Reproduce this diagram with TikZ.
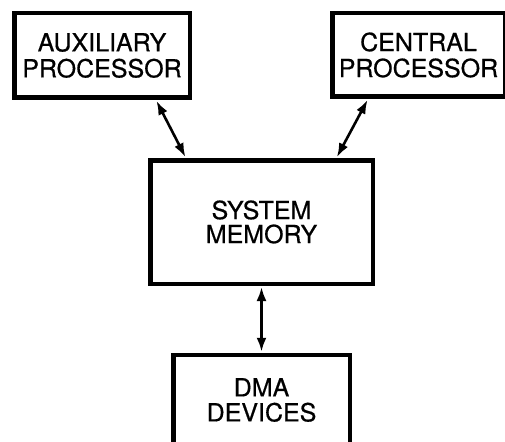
\documentclass[tikz,border=0pt]{standalone}
\usepackage{fontspec}
\setmainfont[FakeBold=0.6]{TeX Gyre Heros}
\usetikzlibrary{arrows.meta,calc}
\tikzset{
  unit/.style={x=1pt,y=-1pt},
  blockbox/.style={draw=black, line width=4.5pt, fill=white, align=center,
    inner sep=0pt, font=\fontsize{25}{26}\selectfont},
  link/.style={line width=2.6pt, shorten <=1pt, shorten >=1pt,
    {Latex[length=14pt,width=10pt]}-{Latex[length=14pt,width=10pt]}},
}
\begin{document}
\begin{tikzpicture}[unit]
  \useasboundingbox (0,0) rectangle (505,441);
  \clip (0,0) rectangle (505,441);
  % processors along the top
  \node[blockbox, minimum width=175.5pt, minimum height=84.5pt] (aux) at (102,55.5)
    {AUXILIARY\\PROCESSOR};
  \node[blockbox, minimum width=172.5pt, minimum height=83.5pt] (cpu) at (418.5,55)
    {CENTRAL\\PROCESSOR};
  % shared memory in the middle
  \node[blockbox, minimum width=222.5pt, minimum height=123.5pt,
        font=\fontsize{25}{24}\selectfont] (mem) at (261.5,222)
    {SYSTEM\\MEMORY};
  % DMA devices below
  \node[blockbox, minimum width=176.5pt, minimum height=90pt,
        font=\fontsize{25}{25}\selectfont] (dma) at (261.5,400)
    {DMA\\DEVICES};
  % bidirectional buses
  \draw[link] ($(aux.south west)!0.8!(aux.south east)$) -- ($(mem.north west)!0.167!(mem.north east)$);
  \draw[link] ($(cpu.south west)!0.215!(cpu.south east)$) -- ($(mem.north west)!0.83!(mem.north east)$);
  \draw[link] (mem.south) -- (dma.north);
\end{tikzpicture}
\end{document}
